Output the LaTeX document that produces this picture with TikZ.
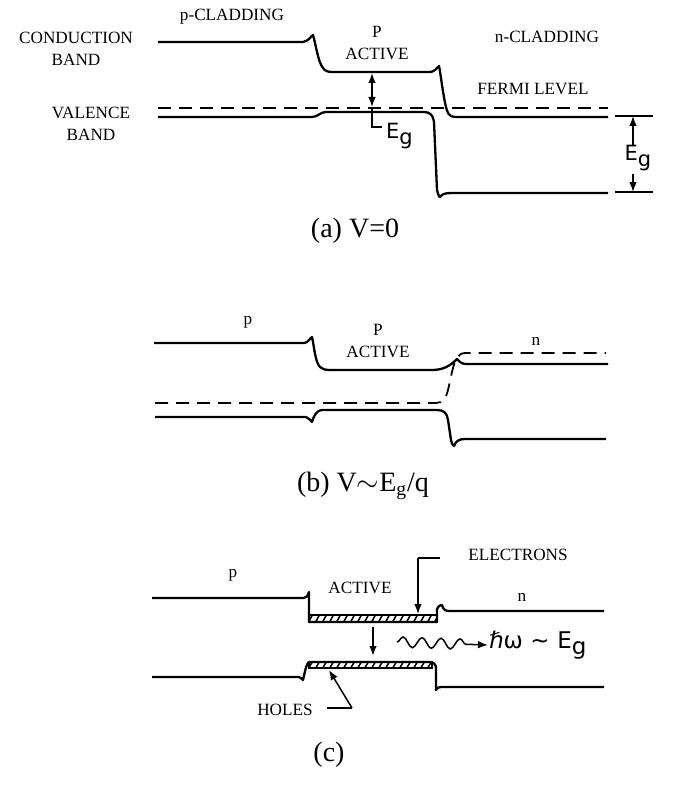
\documentclass[tikz,border=0pt]{standalone}
\usepackage{fontspec}
\setmainfont{Liberation Serif}
\newfontfamily\handfont{DejaVu Sans}
\usetikzlibrary{arrows.meta,decorations.pathmorphing}
\newcommand\hatchbar[4]{%
  \begin{scope}
  \clip (#1,#2) rectangle (#3,#4);
  \foreach \hx in {-8,-1,...,140} \draw[line width=.75pt] (#1+\hx,#4+1) -- (#1+\hx+5,#2-1);
  \end{scope}
  \draw[line width=1pt] (#1,#2) rectangle (#3,#4);}
\begin{document}
\begin{tikzpicture}[x=.5pt,y=-.5pt,line width=1pt,
  band/.style={line width=1.15pt,line join=round},
  fermi/.style={line width=.9pt,dash pattern=on 6.5pt off 4pt},
  lead/.style={line width=.75pt},
  arr/.style={-{Latex[length=5pt,width=3.8pt]}},
  dbl/.style={{Latex[length=5pt,width=3.8pt]}-{Latex[length=5pt,width=3.8pt]}},
  lbl/.style={font=\fontsize{8.6}{10.8}\selectfont,align=center,inner sep=0pt},
  figcap/.style={font=\fontsize{14}{16}\selectfont,inner sep=0pt},
  hand/.style={font=\handfont\fontsize{10.5}{12}\selectfont,inner sep=0pt}]
\useasboundingbox (0,0) rectangle (676,792);
% (a)
\draw[band] (158,42) -- (303,42) .. controls (309,41) and (311,36) .. (313,35) .. controls (316,45) and (318,62) .. (323,68) .. controls (325,71) and (328,72) .. (332,72) -- (430,72) .. controls (434,72) and (437,68) .. (439,66) .. controls (441,75) and (444,105) .. (448,113) .. controls (450,116) and (452,117) .. (456,117) -- (608,117);
\draw[fermi] (158,108) -- (608,108);
\draw[band] (158,117) -- (312,117) .. controls (318,117) and (320,112) .. (326,112) -- (424,112) .. controls (430,112) and (433,115) .. (434,122) -- (437,190) .. controls (438,194) and (439,197) .. (440,197) .. controls (442,194) and (445,193) .. (452,193) -- (608,193);
\node[lbl] (pclad) at (232,17) {p-CLADDING};
\node[lbl] (cband) at (76,49) {CONDUCTION\\BAND};
\node[lbl] (vband) at (91,124) {VALENCE\\BAND};
\node[lbl] (pact) at (377,43) {P\\ACTIVE};
\node[lbl] (nclad) at (547,37) {n-CLADDING};
\node[lbl] (flevel) at (533,89) {FERMI LEVEL};
\node[hand,anchor=base west] (egin) at (385,139) {E\raisebox{-.45ex}{g}};
\coordinate (egtop) at (372,73);
\coordinate (egbot) at (372,107);
\coordinate (egend) at (382,127);
\draw[lead,dbl] (egtop) -- (egbot);
\draw[lead] (egbot) |- (egend);
\node[hand] (egright) at (638,158) {E\raisebox{-.45ex}{g}};
\coordinate (tickup) at (633,116);
\coordinate (tickdn) at (633,192);
\draw[lead] (615,116) -- (653,116) (615,192) -- (653,192);
\draw[lead,arr] (633,145) -- (tickup);
\draw[lead,arr] (633,174) -- (tickdn);
\node[figcap] (capa) at (355,231) {(a) V=0};
% (b)
\draw[band] (154,343) -- (304,343) .. controls (308,343) and (310,338) .. (312,337) .. controls (314,345) and (315,362) .. (320,367) .. controls (322,369) and (325,370) .. (330,370) -- (432,370) .. controls (443,370) and (450,366) .. (457,359) .. controls (459,361) and (461,364) .. (466,364) -- (608,364);
\draw[fermi] (155,403) -- (436,403) .. controls (443,403) and (446,398) .. (448,390) .. controls (451,378) and (453,362) .. (458,357) .. controls (460,354) and (462,353) .. (466,353) -- (606,353);
\draw[band] (155,417) -- (306,417) .. controls (309,418) and (311,421) .. (312,422) .. controls (314,416) and (316,410) .. (323,410) -- (437,410) .. controls (444,410) and (447,413) .. (448,420) -- (451,440) .. controls (452,444) and (453,446) .. (454,446) .. controls (456,441) and (459,439) .. (465,439) -- (606,439);
\node[lbl] (pb) at (248,322) {p};
\node[lbl] (pactb) at (378,341) {P\\ACTIVE};
\node[lbl] (nb) at (536,341) {n};
\node[figcap] (capb) at (363,486) {(b) V$\sim$E\textsubscript{g}/q};
% (c)
\hatchbar{309}{615}{437}{622}
\hatchbar{309}{662}{432}{668}
\draw[band] (152,598) -- (304,598) .. controls (307,598) and (308,595) .. (309,592) -- (309,622) -- (437,622) -- (437,609) .. controls (438,606) and (440,605) .. (442,605) .. controls (443,609) and (445,611) .. (449,611) -- (604,611);
\draw[band] (152,677) -- (299,677) .. controls (301,677) and (302,680) .. (303,680) .. controls (304,676) and (306,664) .. (309,662) -- (429,662) .. controls (433,662) and (436,664) .. (436,668) -- (436,690) .. controls (437,688) and (438,687) .. (441,687) -- (604,687);
\node[lbl] (pc) at (233,575) {p};
\node[lbl] (activec) at (360,588) {ACTIVE};
\node[lbl] (nc) at (522,597) {n};
\node[lbl] (elec) at (518,555) {ELECTRONS};
\node[lbl] (holes) at (285,710) {HOLES};
\coordinate (elstart) at (440,558);
\coordinate (elbend) at (418,558);
\coordinate (eltip) at (418,614);
\draw[lead] (elstart) -- (elbend);
\draw[lead,arr] (elbend) -- (eltip);
\coordinate (hostart) at (327,708);
\coordinate (hobend) at (352,708);
\coordinate (hotip) at (329,670);
\draw[lead] (hostart) -- (hobend);
\draw[lead,arr] (hobend) -- (hotip);
\coordinate (recup) at (373,627);
\coordinate (recdn) at (373,656);
\draw[lead,line width=1pt,arr] (recup) -- (recdn);
\node[hand,font=\handfont\fontsize{11.5}{13}\selectfont,anchor=west] (photon) at (488,645) {ℏω\,\,∼\,\,E\raisebox{-.45ex}{g}};
\coordinate (wavestart) at (397,642);
\draw[lead,arr,decorate,decoration={snake,segment length=9.5pt,amplitude=2.6pt,post length=9pt}] (wavestart) -- (photon.west);
\node[figcap] (capc) at (329,755) {(c)};
\end{tikzpicture}
\end{document}
